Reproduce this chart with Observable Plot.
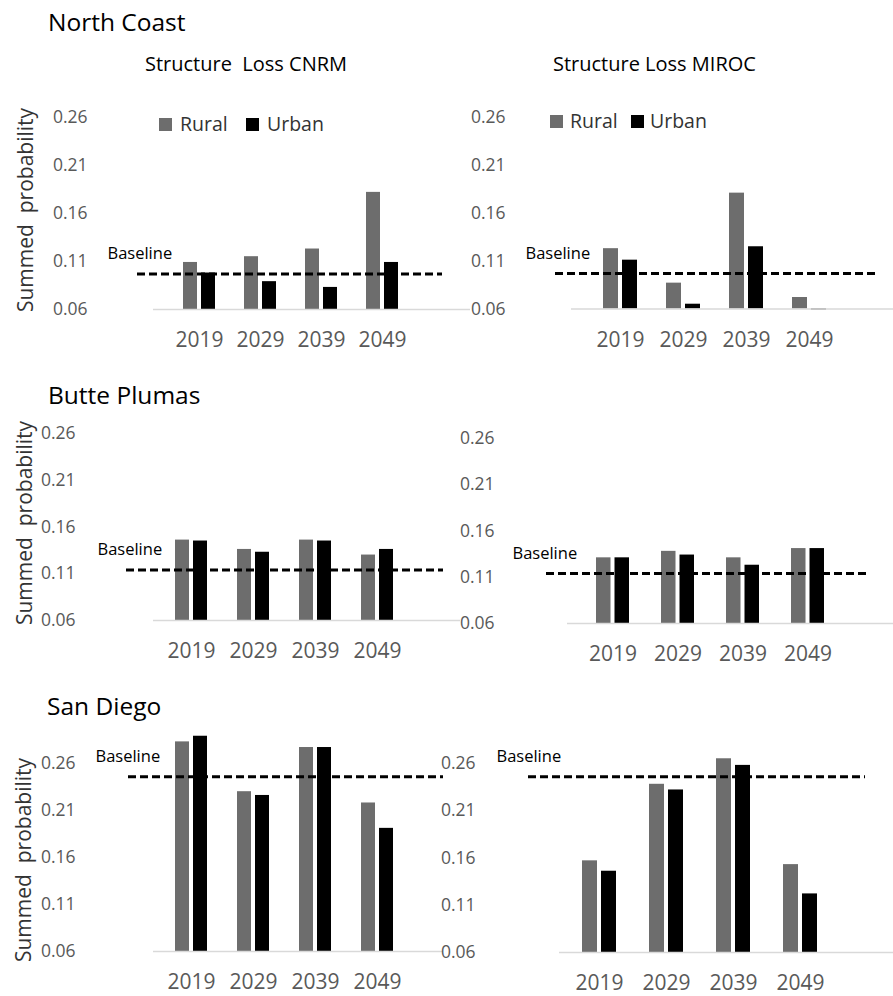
<!DOCTYPE html>
<html>
<head>
<meta charset="utf-8">
<script src="https://cdn.jsdelivr.net/npm/d3@7"></script>
<script src="https://cdn.jsdelivr.net/npm/@observablehq/plot@0.6"></script>
<style>
body{margin:0;background:#fff;}
#wrap{position:relative;width:893px;height:996px;font-family:"Open Sans",sans-serif;overflow:hidden;background:#fff;}
#wrap svg{position:absolute;left:0;top:0;}
.t{position:absolute;white-space:pre;line-height:1;}
.sq{position:absolute;width:13px;height:13px;}
.ytitle{position:absolute;white-space:pre;line-height:1;font-size:21px;color:#333;transform:translate(-50%,-50%) rotate(-90deg);}
</style>
</head>
<body>
<div id="wrap"></div>
<script>
// ---- data ----
const years = ["2019", "2029", "2039", "2049"];
const yTicks = [0.06, 0.11, 0.16, 0.21, 0.26];
const regions = ["North Coast", "Butte Plumas", "San Diego"];
const models = ["Structure  Loss CNRM", "Structure Loss MIROC"];
const seriesNames = ["Rural", "Urban"];

const northCoastCNRMRural  = [0.109, 0.115, 0.123, 0.182];
const northCoastCNRMUrban  = [0.098, 0.089, 0.083, 0.109];
const northCoastMIROCRural = [0.123, 0.087, 0.181, 0.072];
const northCoastMIROCUrban = [0.111, 0.065, 0.125, 0.059];
const butteCNRMRural  = [0.146, 0.136, 0.146, 0.130];
const butteCNRMUrban  = [0.145, 0.133, 0.145, 0.136];
const butteMIROCRural = [0.131, 0.138, 0.131, 0.141];
const butteMIROCUrban = [0.131, 0.134, 0.123, 0.141];
const sanDiegoCNRMRural  = [0.283, 0.230, 0.277, 0.218];
const sanDiegoCNRMUrban  = [0.289, 0.226, 0.277, 0.191];
const sanDiegoMIROCRural = [0.157, 0.238, 0.265, 0.153];
const sanDiegoMIROCUrban = [0.146, 0.232, 0.258, 0.122];

const baselineNorthCoast = 0.097;
const baselineButte = 0.114;
const baselineSanDiego = 0.246;

// ---- layout (page pixels) ----
const W = 893, H = 996;
const FONT = "Open Sans";
const RURAL = "#6d6d6d", URBAN = "#000000";

const panels = [
  {rural: northCoastCNRMRural,  urban: northCoastCNRMUrban,  base: baselineNorthCoast, fl:153, fr:470, y26:117, y06:309,   tr:87,  bl:137, br:442, tx:107, c0:198.5, c3:381.5, pairW:32, gap:4},
  {rural: northCoastMIROCRural, urban: northCoastMIROCUrban, base: baselineNorthCoast, fl:571, fr:893, y26:117, y06:308.5, tr:505, bl:555, br:875, tx:525, c0:620,   c3:809.5, pairW:34, gap:4},
  {rural: butteCNRMRural,  urban: butteCNRMUrban,  base: baselineButte, fl:153, fr:460, y26:433, y06:620, tr:75,  bl:126, br:443, tx:97,  c0:190,   c3:378.5, pairW:32, gap:4},
  {rural: butteMIROCRural, urban: butteMIROCUrban, base: baselineButte, fl:567, fr:893, y26:438, y06:623, tr:494, bl:546, br:867, tx:512, c0:612.5, c3:807.5, pairW:33, gap:4},
  {rural: sanDiegoCNRMRural,  urban: sanDiegoCNRMUrban,  base: baselineSanDiego, fl:153, fr:443, y26:763, y06:951, tr:75,  bl:128, br:443, tx:95,  c0:190, c3:378.5, pairW:32, gap:4},
  {rural: sanDiegoMIROCRural, urban: sanDiegoMIROCUrban, base: baselineSanDiego, fl:559, fr:893, y26:763, y06:952, tr:475, bl:528, br:865, tx:496, c0:598, c3:801.5, pairW:34, gap:4}
];

const wrap = document.getElementById("wrap");

function panel(g) {
  const rows = years.map((y, i) => ({year: y, rural: g.rural[i], urban: g.urban[i]}));
  const step = (g.c3 - g.c0) / 3;
  const p = 1 - g.pairW / step;
  const inset = (g.pairW + g.gap) / 2;
  return Plot.plot({
    width: W, height: H,
    marginLeft: g.fl, marginRight: W - g.fr, marginTop: g.y26, marginBottom: H - g.y06,
    style: {background: "transparent", fontFamily: FONT, overflow: "visible"},
    x: {type: "band", domain: years, range: [g.c0 - step / 2, g.c3 + step / 2], paddingInner: p, paddingOuter: p / 2, align: 0.5, label: null},
    y: {domain: [0.06, 0.26], label: null},
    marks: [
      Plot.barY(rows, {x: "year", y1: 0.06, y2: "rural", fill: RURAL, insetRight: inset}),
      Plot.barY(rows, {x: "year", y1: 0.06, y2: "urban", fill: URBAN, insetLeft: inset}),
      Plot.ruleY([0.06], {stroke: "#d9d9d9", strokeWidth: 1.5}),
      Plot.ruleY([g.base], {stroke: "#000", strokeWidth: 3, strokeDasharray: "8,4", insetLeft: g.bl - g.fl, insetRight: g.fr - g.br}),
      Plot.text([{v: g.base, label: "Baseline"}], {y: "v", text: "label", frameAnchor: "left", dx: g.tx - g.fl, dy: -20, textAnchor: "start", fontSize: 16.5, fill: "#000"}),
      Plot.axisY(yTicks, {tickSize: 0, tickPadding: g.fl - g.tr, tickFormat: d3.format(".2f"), fontSize: 17.5, color: "#595959", label: null}),
      Plot.axisX({tickSize: 0, tickPadding: 23, fontSize: 21, color: "#595959", label: null})
    ]
  });
}

panels.forEach(g => wrap.appendChild(panel(g)));

function addText(txt, left, top, size, color) {
  const d = document.createElement("div");
  d.className = "t";
  d.textContent = txt;
  d.style.left = left + "px";
  d.style.top = top + "px";
  d.style.fontSize = size + "px";
  d.style.color = color;
  wrap.appendChild(d);
}
function addSquare(left, top, color) {
  const d = document.createElement("div");
  d.className = "sq";
  d.style.left = left + "px";
  d.style.top = top + "px";
  d.style.background = color;
  wrap.appendChild(d);
}
function addYTitle(cx, cy) {
  const d = document.createElement("div");
  d.className = "ytitle";
  d.textContent = "Summed  probability";
  d.style.left = cx + "px";
  d.style.top = cy + "px";
  wrap.appendChild(d);
}

// region titles
addText(regions[0], 48, 10, 24.5, "#000");
addText(regions[1], 48, 383, 24.5, "#000");
addText(regions[2], 47, 694, 24.5, "#000");
// model titles
addText(models[0], 145, 54, 20, "#000");
addText(models[1], 553, 54, 20, "#000");
// legends
addSquare(159, 118, RURAL); addText(seriesNames[0], 180, 114, 19.5, "#333");
addSquare(246, 118, URBAN); addText(seriesNames[1], 267, 114, 19.5, "#333");
addSquare(550, 115, RURAL); addText(seriesNames[0], 570, 111, 19.5, "#333");
addSquare(631, 115, URBAN); addText(seriesNames[1], 650, 111, 19.5, "#333");
// y titles
addYTitle(25, 210);
addYTitle(24, 523);
addYTitle(23, 860);
</script>
</body>
</html>
